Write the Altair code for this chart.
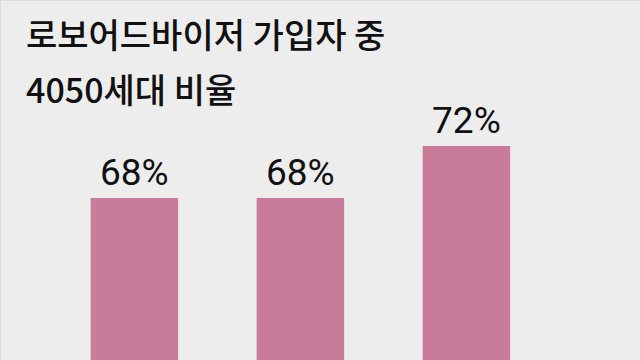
import altair as alt
import pandas as pd

categories = ["A", "B", "C"]
values = [68, 68, 72]
title_lines = ["로보어드바이저 가입자 중", "4050세대 비율"]

df = pd.DataFrame({"cat": categories, "val": values})
df["label"] = df["val"].astype(str) + "%"

x = alt.X("cat:N", axis=None, sort=None,
          scale=alt.Scale(paddingInner=0.473, paddingOuter=0.664, align=0.411))
y = alt.Y("val:Q", axis=None, scale=alt.Scale(domain=[55.54, 83.23], zero=False, nice=False))

bars = alt.Chart(df).mark_bar(color="#c97b9b", clip=True).encode(x=x, y=y)
labels = alt.Chart(df).mark_text(
    baseline="alphabetic", dy=-13, fontSize=37, color="#111111",
    font="Roboto"
).encode(x=x, y=y, text="label:N")

chart = alt.layer(bars, labels).properties(
    width=640, height=360,
    padding=0,
    autosize=alt.AutoSizeParams(type="none"),
    title=alt.TitleParams(
        text=title_lines, anchor="start", frame="group", orient="top",
        font="Noto Sans CJK KR", fontSize=34, fontWeight=500,
        color="#111111", lineHeight=55, baseline="top", dx=26, dy=110, offset=0
    ),
).configure_view(stroke=None, fill="#ededed").configure(background="#ededed")

chart.save("out.html", embed_options={"renderer": "svg", "actions": False})
